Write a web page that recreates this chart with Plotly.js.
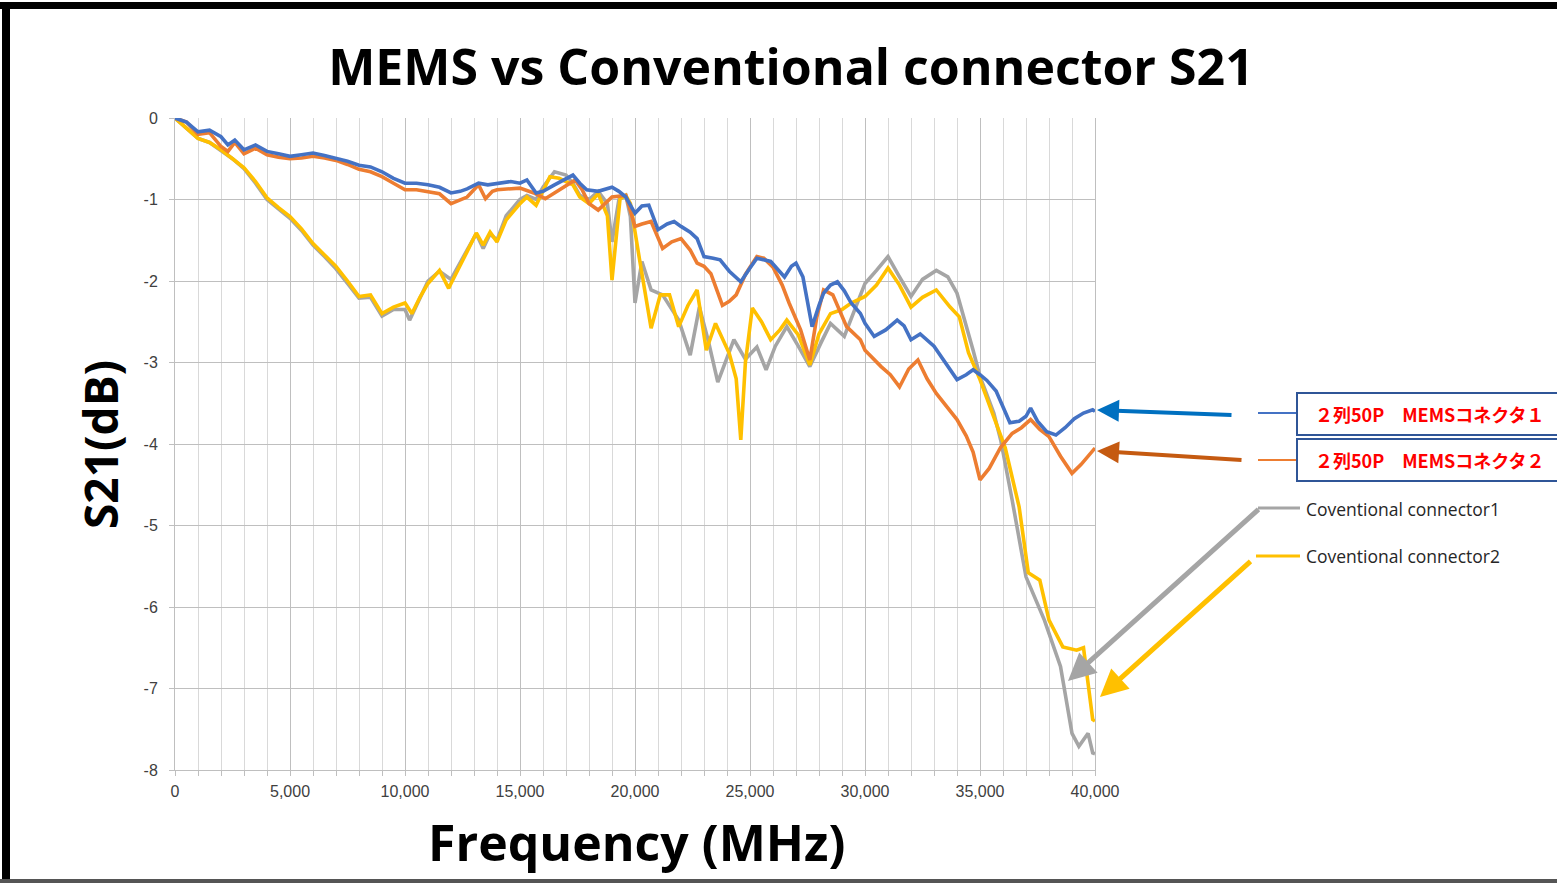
<!DOCTYPE html>
<html>
<head>
<meta charset="utf-8">
<script src="https://cdn.plot.ly/plotly-3.0.1.min.js"></script>
<style>html,body{margin:0;padding:0;background:#fff;overflow:hidden}#chart{width:1557px;height:883px}</style>
</head>
<body>
<div id="chart"></div>
<script>
// ---- data (frequency in MHz, S21 in dB) ----
const seriesNames = ["２列50P　MEMSコネクタ１", "２列50P　MEMSコネクタ２", "Coventional connector1", "Coventional connector2"];

const mems1Freq = [0,500,1000,1500,2000,2300,2600,3000,3500,4000,4500,5000,5500,6000,6500,7000,7500,8000,8500,9000,9500,10000,10500,11000,11500,12000,12400,12700,13200,13600,14000,14600,15000,15300,15700,16000,16500,17000,17300,17600,17900,18400,19000,19300,19600,20000,20300,20600,21000,21400,21700,22000,22400,22700,23000,23400,23700,24100,24600,25000,25300,25900,26200,26500,26800,27000,27300,27700,28000,28200,28500,28800,29100,29400,29800,30000,30400,30900,31400,31700,32000,32400,33000,33500,34000,34400,34700,35000,35300,35700,36000,36300,36700,37000,37200,37500,37900,38300,38700,39100,39500,39900,40000];
const mems1S21 = [0,-0.05,-0.17,-0.15,-0.23,-0.33,-0.27,-0.39,-0.33,-0.41,-0.44,-0.47,-0.45,-0.43,-0.46,-0.49,-0.53,-0.58,-0.6,-0.66,-0.74,-0.8,-0.8,-0.82,-0.85,-0.92,-0.9,-0.87,-0.8,-0.82,-0.8,-0.78,-0.8,-0.76,-0.92,-0.9,-0.82,-0.75,-0.7,-0.8,-0.88,-0.9,-0.85,-0.9,-0.97,-1.17,-1.08,-1.07,-1.37,-1.3,-1.27,-1.33,-1.4,-1.48,-1.7,-1.72,-1.74,-1.88,-2.01,-1.84,-1.72,-1.76,-1.85,-1.95,-1.82,-1.78,-1.95,-2.56,-2.3,-2.15,-2.05,-2.01,-2.12,-2.27,-2.4,-2.52,-2.68,-2.6,-2.48,-2.55,-2.72,-2.65,-2.8,-3.0,-3.21,-3.15,-3.09,-3.15,-3.22,-3.35,-3.55,-3.74,-3.72,-3.66,-3.56,-3.72,-3.85,-3.89,-3.8,-3.69,-3.62,-3.58,-3.6];

const mems2Freq = [0,500,1000,1500,2000,2300,2600,3000,3500,4000,4500,5000,5500,6000,6500,7000,7500,8000,8500,9000,9500,10000,10500,11000,11500,12000,12400,12700,13200,13500,13800,14000,15000,15600,16100,16500,17000,17400,17700,18000,18400,18700,19000,19600,20000,20300,20700,21200,21600,22000,22400,22700,23000,23300,23800,24100,24400,24800,25300,25600,26000,26400,26700,27200,27600,27900,28200,28600,29200,29800,30000,30700,31100,31500,31900,32300,32700,33100,33600,34000,34400,34700,35000,35400,35900,36400,36800,37200,37600,38000,38500,39000,39400,39900,40000];
const mems2S21 = [0,-0.05,-0.2,-0.18,-0.35,-0.41,-0.3,-0.44,-0.37,-0.45,-0.48,-0.5,-0.49,-0.47,-0.49,-0.52,-0.57,-0.63,-0.66,-0.72,-0.8,-0.88,-0.88,-0.9,-0.93,-1.05,-1.0,-0.97,-0.82,-0.99,-0.9,-0.88,-0.86,-0.92,-0.99,-0.92,-0.84,-0.76,-0.88,-1.05,-1.13,-1.05,-0.97,-0.95,-1.33,-1.3,-1.27,-1.6,-1.52,-1.48,-1.62,-1.78,-1.82,-1.91,-2.3,-2.25,-2.17,-1.92,-1.7,-1.72,-1.83,-2.05,-2.27,-2.6,-2.97,-2.45,-2.11,-2.17,-2.56,-2.72,-2.85,-3.05,-3.15,-3.3,-3.08,-2.97,-3.2,-3.38,-3.55,-3.7,-3.9,-4.1,-4.44,-4.3,-4.04,-3.87,-3.8,-3.7,-3.82,-3.91,-4.15,-4.36,-4.25,-4.07,-4.05];

const conv1Freq = [0,500,1000,1500,2000,2500,3000,3500,4000,4500,5000,5500,6000,6500,7000,7500,8000,8500,9000,9500,10000,10200,10650,11000,11500,11900,12000,12700,13100,13400,13700,14000,14400,15000,15300,15700,16000,16500,17000,17300,17600,18000,18400,18800,19000,19300,19600,19800,20000,20300,20700,21200,21900,22400,22800,23200,23600,24300,24800,25300,25700,26100,26600,27100,27600,28100,28500,29100,29500,30000,30500,31000,31500,32000,32500,33100,33600,34000,34700,35000,35600,35900,36400,37000,37800,38500,39000,39300,39700,39900,40000];
const conv1S21 = [0,-0.12,-0.25,-0.3,-0.4,-0.5,-0.62,-0.8,-1.0,-1.12,-1.23,-1.38,-1.56,-1.7,-1.85,-2.03,-2.21,-2.2,-2.43,-2.35,-2.35,-2.48,-2.2,-2.0,-1.88,-1.95,-1.98,-1.62,-1.42,-1.6,-1.42,-1.5,-1.2,-1.0,-0.95,-1.0,-0.85,-0.66,-0.7,-0.8,-0.95,-1.0,-0.9,-1.05,-1.52,-1.0,-0.95,-1.21,-2.27,-1.76,-2.11,-2.17,-2.48,-2.91,-2.32,-2.75,-3.24,-2.72,-2.96,-2.81,-3.09,-2.8,-2.56,-2.8,-3.05,-2.75,-2.52,-2.68,-2.4,-2.03,-1.87,-1.7,-1.95,-2.19,-1.98,-1.87,-1.95,-2.15,-2.85,-3.17,-3.62,-3.95,-4.69,-5.63,-6.16,-6.73,-7.55,-7.71,-7.55,-7.79,-7.8];

const conv2Freq = [0,500,1000,1500,2000,2500,3000,3500,4000,4500,5000,5500,6000,6500,7000,7500,8000,8500,9000,9500,10000,10300,10650,11000,11500,11900,12000,12700,13100,13400,13700,14000,14400,15000,15300,15700,16000,16300,16700,17000,17300,17600,18000,18400,18800,19000,19350,19600,19800,20200,20700,21100,21500,21900,22300,22700,23100,23500,24100,24400,24600,24800,25100,25500,25900,26300,26600,27100,27600,28000,28500,29000,29400,30000,30500,31000,31500,32000,32500,33100,33700,34100,34500,35000,35600,36100,36700,37100,37600,38000,38600,39200,39500,39700,39900,40000];
const conv2S21 = [0,-0.12,-0.25,-0.3,-0.39,-0.5,-0.61,-0.78,-0.98,-1.1,-1.21,-1.36,-1.54,-1.68,-1.82,-2.0,-2.19,-2.17,-2.4,-2.32,-2.27,-2.4,-2.2,-2.03,-1.87,-2.09,-2.03,-1.64,-1.41,-1.56,-1.4,-1.52,-1.25,-1.05,-0.97,-1.07,-0.9,-0.72,-0.74,-0.78,-0.82,-0.97,-1.05,-0.93,-1.2,-1.99,-0.99,-0.95,-1.05,-1.74,-2.58,-2.17,-2.17,-2.56,-2.3,-2.11,-2.85,-2.52,-2.89,-3.2,-3.95,-3.0,-2.33,-2.5,-2.72,-2.6,-2.48,-2.66,-3.03,-2.65,-2.4,-2.35,-2.27,-2.19,-2.05,-1.84,-2.05,-2.32,-2.2,-2.11,-2.32,-2.44,-2.88,-3.21,-3.67,-4.05,-4.77,-5.58,-5.67,-6.16,-6.49,-6.53,-6.5,-6.93,-7.38,-7.4];

const xTickVals = [0,5000,10000,15000,20000,25000,30000,35000,40000];
const xTickText = ["0","5,000","10,000","15,000","20,000","25,000","30,000","35,000","40,000"];
const yTickVals = [0,-1,-2,-3,-4,-5,-6,-7,-8];
const yTickText = ["0","-1","-2","-3","-4","-5","-6","-7","-8"];

// ---- layout helpers ----
const W = 1557, H = 883;
const M = {l:175, r:462, t:118, b:113};
const PW = W - M.l - M.r, PH = H - M.t - M.b;
const px = v => (v - M.l) / PW;           // page pixel x -> paper
const py = v => (H - M.b - v) / PH;       // page pixel y -> paper

const colors = ["#4472C4", "#ED7D31", "#A5A5A5", "#FFC000"];
const fx = [mems1Freq, mems2Freq, conv1Freq, conv2Freq];
const fy = [mems1S21, mems2S21, conv1S21, conv2S21];
const order = [2, 3, 1, 0];
const traces = order.map(i => ({
  type: "scatter", mode: "lines", x: fx[i], y: fy[i], name: seriesNames[i],
  line: {color: colors[i], width: 3.6, shape: "linear"}, showlegend: false, hoverinfo: "x+y"
}));

const shapes = [
  // outer frame
  {type:"rect", xref:"paper", yref:"paper", x0:px(0), x1:px(W+20), y0:py(2), y1:py(9), fillcolor:"#000", line:{width:0}, layer:"above"},
  {type:"rect", xref:"paper", yref:"paper", x0:px(2), x1:px(10), y0:py(2), y1:py(H+5), fillcolor:"#000", line:{width:0}, layer:"above"},
  {type:"rect", xref:"paper", yref:"paper", x0:px(0), x1:px(W+20), y0:py(879), y1:py(H+5), fillcolor:"#555", line:{width:0}, layer:"above"},
  // legend lines
  {type:"line", xref:"paper", yref:"paper", x0:px(1258), x1:px(1297), y0:py(413), y1:py(413), line:{color:colors[0], width:2}},
  {type:"line", xref:"paper", yref:"paper", x0:px(1258), x1:px(1297), y0:py(460), y1:py(460), line:{color:colors[1], width:2}},
  {type:"line", xref:"paper", yref:"paper", x0:px(1258), x1:px(1300), y0:py(508), y1:py(508), line:{color:colors[2], width:3}},
  {type:"line", xref:"paper", yref:"paper", x0:px(1256), x1:px(1300), y0:py(556), y1:py(556), line:{color:colors[3], width:3}},
  // legend boxes
  {type:"rect", xref:"paper", yref:"paper", x0:px(1297), x1:px(1570), y0:py(393), y1:py(435), line:{color:"#2F5597", width:2}},
  {type:"rect", xref:"paper", yref:"paper", x0:px(1297), x1:px(1570), y0:py(439), y1:py(481), line:{color:"#2F5597", width:2}}
];

const arrow = (hx, hy, tx, ty, col, w) => ({
  xref:"paper", yref:"paper", x:px(hx), y:py(hy), ax:tx-hx, ay:ty-hy, axref:"pixel", ayref:"pixel",
  text:"", showarrow:true, arrowhead:2, arrowsize:1.1, arrowwidth:w, arrowcolor:col
});

const label = (x, y, text, font, extra) => Object.assign({
  xref:"paper", yref:"paper", x:px(x), y:py(y), text:text, showarrow:false,
  xanchor:"center", yanchor:"middle", font:font
}, extra || {});

const annotations = [
  label(100, 445, "<b>S21(dB)</b>", {family:"Open Sans, sans-serif", size:46, color:"#000"}, {textangle:-90}),
  label(636, 842, "<b>Frequency (MHz)</b>", {family:"Open Sans, sans-serif", size:50, color:"#000"}),
  label(1313, 414, "<b>" + seriesNames[0] + "</b>", {family:"Noto Sans CJK JP, sans-serif", size:18, color:"#FF0000"}, {xanchor:"left"}),
  label(1313, 460, "<b>" + seriesNames[1] + "</b>", {family:"Noto Sans CJK JP, sans-serif", size:18, color:"#FF0000"}, {xanchor:"left"}),
  label(1304, 509, seriesNames[2], {family:"Open Sans, sans-serif", size:17.5, color:"#262626"}, {xanchor:"left"}),
  label(1304, 556, seriesNames[3], {family:"Open Sans, sans-serif", size:17.5, color:"#262626"}, {xanchor:"left"}),
  arrow(1097, 410, 1233, 415, "#0070C0", 4),
  arrow(1097, 451, 1243, 460, "#C55A11", 4),
  arrow(1068, 681, 1260, 508, "#A5A5A5", 5),
  arrow(1100, 697, 1252, 560, "#FFC000", 5)
];

const layout = {
  width: W, height: H, margin: M,
  paper_bgcolor: "#fff", plot_bgcolor: "#fff",
  title: {text: "<b>MEMS vs Conventional connector S21</b>", x: 791/W, xanchor: "center", xref: "container",
          y: 1 - 67/H, yanchor: "middle", yref: "container",
          font: {family: "Open Sans, sans-serif", size: 50, color: "#000"}},
  xaxis: {range:[0,40000], tickvals:xTickVals, ticktext:xTickText, showgrid:true, gridcolor:"#BFBFBF", gridwidth:1,
          minor:{dtick:1000, tick0:0, showgrid:true, gridcolor:"#D9D9D9", gridwidth:1, ticks:"outside", ticklen:5, tickcolor:"#BFBFBF"},
          ticks:"outside", ticklen:5, tickcolor:"#BFBFBF", showline:true, linecolor:"#BFBFBF", mirror:false,
          zeroline:false, tickfont:{family:"Liberation Sans, Arial, sans-serif", size:16, color:"#404040"}, ticklabelstandoff:2},
  yaxis: {range:[-8,0], tickvals:yTickVals, ticktext:yTickText, showgrid:true, gridcolor:"#BFBFBF", gridwidth:1,
          ticks:"outside", ticklen:5, tickcolor:"#BFBFBF", showline:true, linecolor:"#BFBFBF", mirror:true,
          zeroline:false, tickfont:{family:"Liberation Sans, Arial, sans-serif", size:16, color:"#404040"}, ticklabelstandoff:8},
  shapes: shapes, annotations: annotations
};

Plotly.newPlot("chart", traces, layout, {displayModeBar:false, responsive:false});
</script>
</body>
</html>
